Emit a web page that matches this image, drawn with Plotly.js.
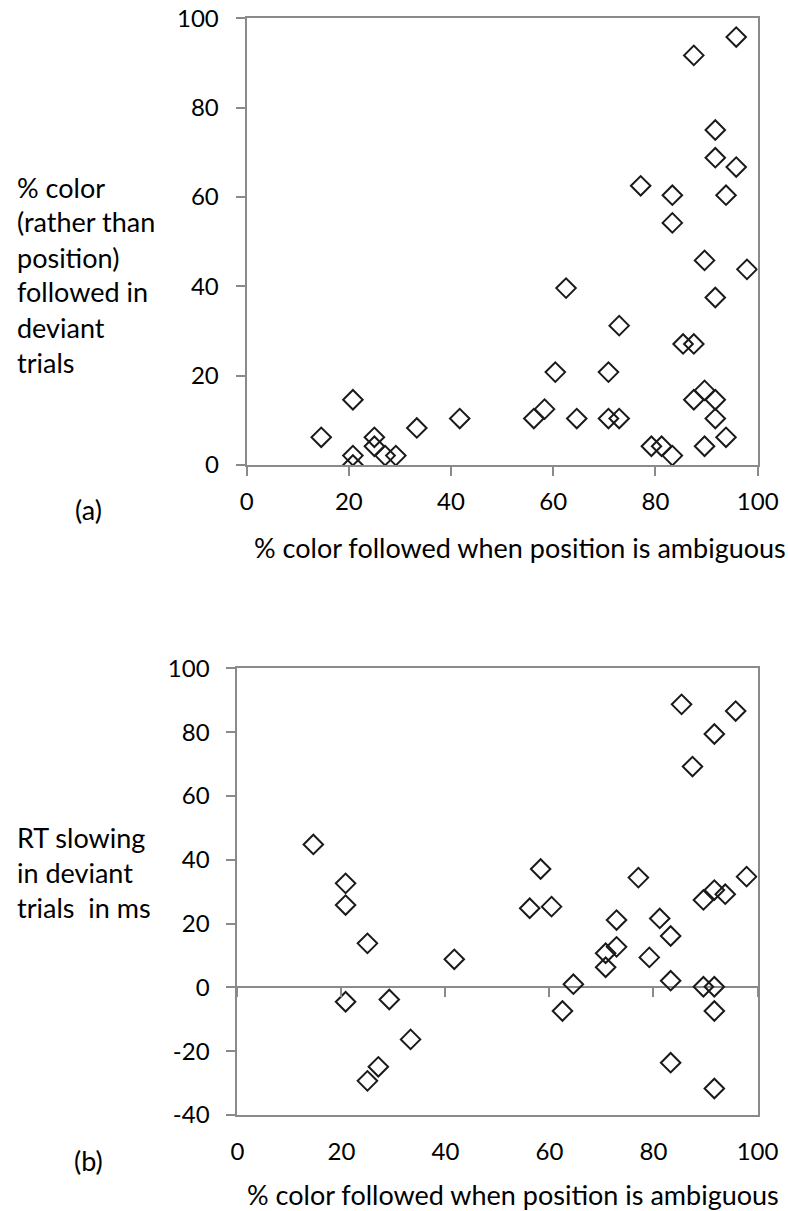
<!DOCTYPE html>
<html>
<head>
<meta charset="utf-8">
<script src="https://cdn.plot.ly/plotly-3.0.1.min.js"></script>
<style>
  html, body { margin: 0; padding: 0; background: #ffffff; }
  #chart { width: 788px; height: 1211px; }
</style>
</head>
<body>
<div id="chart"></div>
<script>
// ---- data ----
var topX = [20.8, 14.6, 25.0, 25.0, 20.8, 20.8, 27.1, 29.2, 33.3, 41.7,
            95.8, 87.5, 91.7, 91.7, 95.8, 77.1, 83.3, 93.8, 83.3,
            89.6, 97.9, 62.5, 91.7, 72.9, 85.4, 87.5, 60.4, 70.8, 89.6,
            87.5, 91.7, 58.3, 56.2, 64.6, 70.8, 72.9, 91.7, 93.8, 79.2,
            81.2, 89.6, 83.3];
var topY = [14.6, 6.2, 6.2, 4.2, 2.1, 0.0, 2.1, 2.1, 8.3, 10.4,
            95.8, 91.7, 75.0, 68.8, 66.7, 62.5, 60.4, 60.4, 54.2,
            45.8, 43.8, 39.6, 37.5, 31.2, 27.1, 27.1, 20.8, 20.8, 16.7,
            14.6, 14.6, 12.5, 10.4, 10.4, 10.4, 10.4, 10.4, 6.2, 4.2,
            4.2, 4.2, 2.1];

var botX = [14.6, 20.8, 20.8, 25.0, 41.7, 20.8, 29.2, 33.3, 27.1, 25.0,
            85.4, 95.8, 91.7, 87.5, 58.3, 77.1, 97.9,
            56.2, 60.4, 91.7, 89.6, 93.8, 72.9, 81.2, 83.3, 72.9, 70.8,
            79.2, 70.8, 64.6, 83.3, 89.6, 91.7, 62.5, 91.7, 83.3, 91.7];
var botY = [44.8, 32.6, 25.8, 13.8, 8.8, -4.5, -3.8, -16.3, -24.9, -29.3,
            88.7, 86.6, 79.4, 69.2, 37.1, 34.4, 34.7,
            24.8, 25.3, 30.5, 27.4, 29.2, 21.1, 21.6, 16.1, 12.7, 10.7,
            9.4, 6.3, 1.0, 2.1, 0.2, 0.2, -7.4, -7.4, -23.6, -31.7];

var xTickVals = [0, 20, 40, 60, 80, 100];
var xTickText = ["0", "20", "40", "60", "80", "100"];
var topYTickVals = [0, 20, 40, 60, 80, 100];
var topYTickText = ["0", "20", "40", "60", "80", "100"];
var botYTickVals = [-40, -20, 0, 20, 40, 60, 80, 100];
var botYTickText = ["-40", "-20", "0", "20", "40", "60", "80", "100"];

var xTitle = "% color followed when position is ambiguous";
var topYTitleLines = ["% color", "(rather than", "position)", "followed in", "deviant", "trials"];
var botYTitleLines = ["RT slowing", "in deviant", "trials  in ms"];
var panelLabels = ["(a)", "(b)"];

// ---- layout geometry (pixels) ----
var W = 788, H = 1211;
function px(x) { return x / W; }
function py(y) { return 1 - y / H; }

var topBox = {l: 246.6, r: 757.7, t: 18.3, b: 465};
var botBox = {l: 237.4, r: 757.5, t: 668.3, b: 1115};
var botYRange = [-40, 100];
var zeroFrac = (0 - botYRange[0]) / (botYRange[1] - botYRange[0]);

var FONT = "Lato, 'Open Sans', sans-serif";
var AX = "#8a8a8a";
var tickFont = {family: FONT, size: 24, color: "#000000"};

var marker = {symbol: "diamond-open", size: 15, color: "#1a1a1a", line: {width: 2, color: "#1a1a1a"}};

var traces = [
  {type: "scatter", mode: "markers", x: topX, y: topY, xaxis: "x", yaxis: "y",
   marker: marker, hoverinfo: "x+y"},
  {type: "scatter", mode: "markers", x: botX, y: botY, xaxis: "x2", yaxis: "y2",
   marker: marker, hoverinfo: "x+y"},
  // empty trace so the tick-only axis crossing at zero is built
  {type: "scatter", mode: "markers", x: [], y: [], xaxis: "x3", yaxis: "y2",
   hoverinfo: "skip", showlegend: false}
];

function baseAxis() {
  return {
    showgrid: false, zeroline: false, showline: true, mirror: true,
    linecolor: AX, linewidth: 2, ticks: "outside", ticklen: 9,
    tickwidth: 2, tickcolor: AX, tickfont: tickFont, fixedrange: true
  };
}

var xa = Object.assign(baseAxis(), {
  domain: [px(topBox.l), px(topBox.r)], range: [0, 100], anchor: "y",
  tickmode: "array", tickvals: xTickVals, ticktext: xTickText, ticklabelstandoff: 5
});
var ya = Object.assign(baseAxis(), {
  domain: [py(topBox.b), py(topBox.t)], range: [0, 100], anchor: "x",
  tickmode: "array", tickvals: topYTickVals, ticktext: topYTickText, ticklabelstandoff: 12
});
var xa2 = Object.assign(baseAxis(), {
  domain: [px(botBox.l), px(botBox.r)], range: [0, 100], anchor: "y2",
  tickmode: "array", tickvals: xTickVals, ticktext: xTickText,
  tickcolor: "rgba(0,0,0,0)", ticklabelstandoff: 5
});
var ya2 = Object.assign(baseAxis(), {
  domain: [py(botBox.b), py(botBox.t)], range: botYRange, anchor: "x2",
  tickmode: "array", tickvals: botYTickVals, ticktext: botYTickText, ticklabelstandoff: 12,
  zeroline: true, zerolinecolor: AX, zerolinewidth: 2
});
var yDom2 = ya2.domain;
var xa3 = {
  overlaying: "x2", anchor: "free",
  position: yDom2[0] + (yDom2[1] - yDom2[0]) * zeroFrac,
  range: [0, 100], tickmode: "array", tickvals: xTickVals,
  showticklabels: false, showline: false, showgrid: false, zeroline: false,
  ticks: "outside", ticklen: 9, tickwidth: 2, tickcolor: AX, side: "bottom", fixedrange: true
};

var annotations = [];
var txtFont = {family: FONT, size: 27, color: "#000000"};
topYTitleLines.forEach(function (t, i) {
  annotations.push({text: t, xref: "paper", yref: "paper", x: px(15), y: py(187 + 35 * i),
    xanchor: "left", yanchor: "middle", showarrow: false, font: txtFont, align: "left"});
});
botYTitleLines.forEach(function (t, i) {
  annotations.push({text: t, xref: "paper", yref: "paper", x: px(15), y: py(837 + 35 * i),
    xanchor: "left", yanchor: "middle", showarrow: false, font: txtFont, align: "left"});
});
annotations.push({text: panelLabels[0], xref: "paper", yref: "paper", x: px(88), y: py(510),
  xanchor: "center", yanchor: "middle", showarrow: false, font: txtFont});
annotations.push({text: panelLabels[1], xref: "paper", yref: "paper", x: px(88), y: py(1160),
  xanchor: "center", yanchor: "middle", showarrow: false, font: txtFont});
annotations.push({text: xTitle, xref: "paper", yref: "paper", x: px(520), y: py(548),
  xanchor: "center", yanchor: "middle", showarrow: false, font: txtFont});
annotations.push({text: xTitle, xref: "paper", yref: "paper", x: px(513), y: py(1194),
  xanchor: "center", yanchor: "middle", showarrow: false, font: txtFont, borderpad: 0});

var layout = {
  width: W, height: H,
  margin: {l: 0, r: 0, t: 0, b: 0, pad: 0},
  paper_bgcolor: "#ffffff", plot_bgcolor: "#ffffff",
  showlegend: false,
  font: {family: FONT, size: 24, color: "#000000"},
  xaxis: xa, yaxis: ya, xaxis2: xa2, yaxis2: ya2, xaxis3: xa3,
  annotations: annotations
};

Plotly.newPlot("chart", traces, layout, {displayModeBar: false, staticPlot: true});
</script>
</body>
</html>
